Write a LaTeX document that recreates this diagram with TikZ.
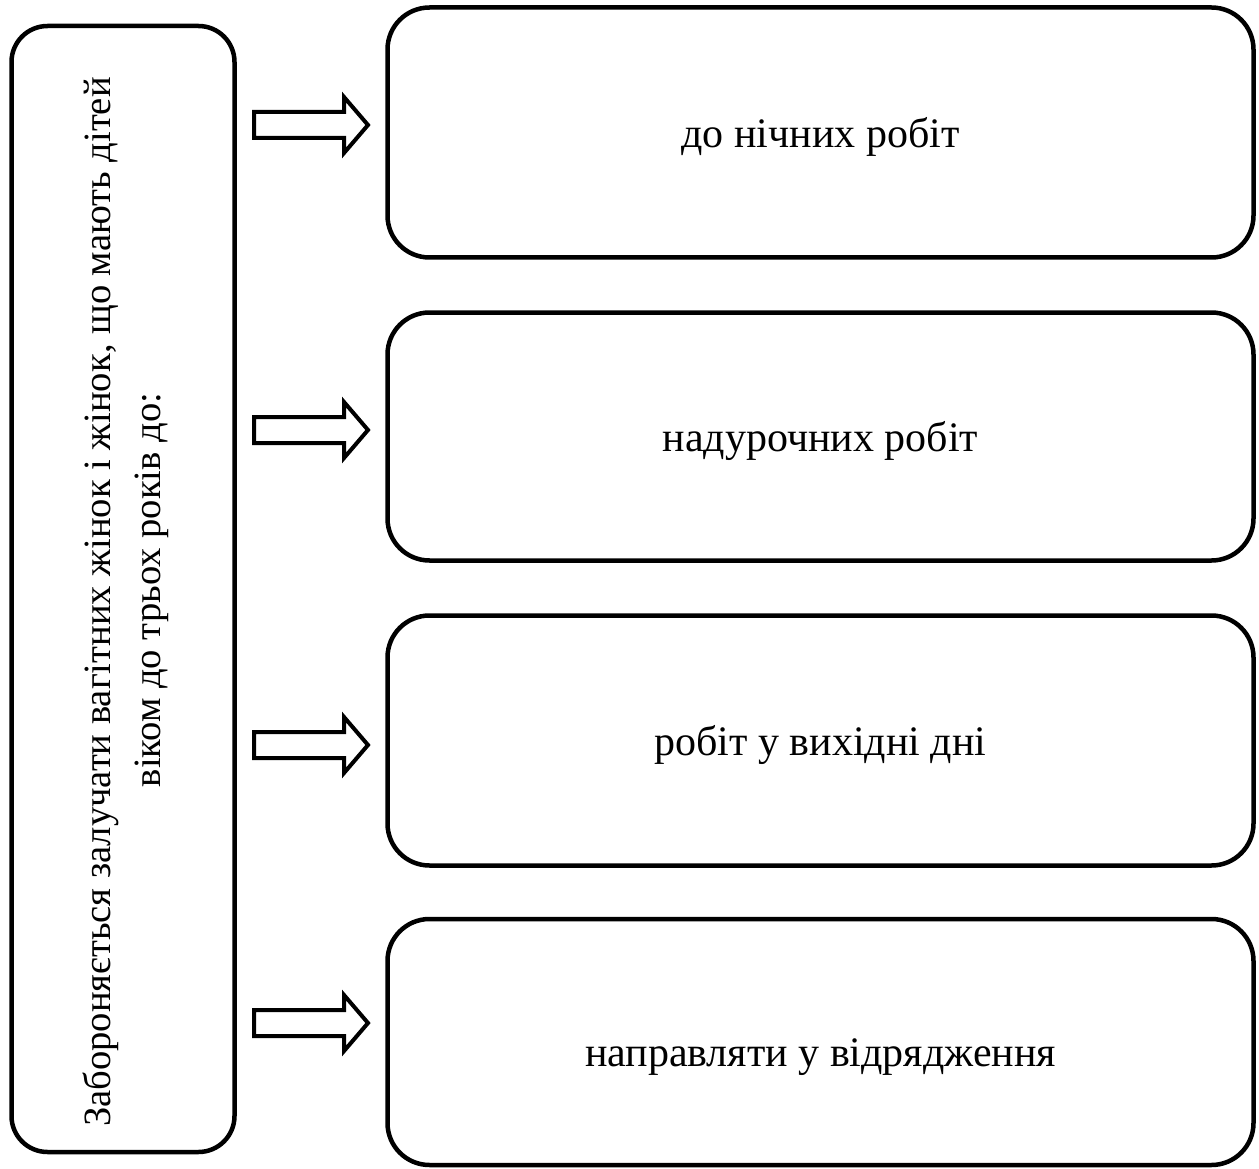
\documentclass[tikz,border=0pt]{standalone}
\usepackage{fontspec}
\setmainfont{Liberation Serif}
\begin{document}
\begin{tikzpicture}[x=1pt,y=1pt,
  box/.style={draw=black, line width=4.5pt, rounded corners=42pt, inner sep=0pt,
    font=\fontsize{42}{50}\selectfont, align=center, text height=35pt, text depth=5pt},
  leftbox/.style={draw=black, line width=4.5pt, rounded corners=36pt, inner sep=0pt},
  lefttext/.style={font=\fontsize{38.6}{50}\selectfont, rotate=90, anchor=base, inner sep=0pt},
  blockarrow/.style={draw=black, line width=4pt, fill=white, line join=miter}
]
\useasboundingbox (0,0) rectangle (1259,-1169);

\node[leftbox, minimum width=223pt, minimum height=1126pt] (L) at (123,-589) {};
\node[lefttext] (L1) at (110,-602) {Забороняється залучати вагітних жінок і жінок, що мають дітей};
\node[lefttext] (L2) at (160,-590) {віком до трьох років до:};

\node[box, minimum width=866pt, minimum height=250pt] (B1) at (820.5,-132.5) {до нічних робіт};
\node[box, minimum width=866pt, minimum height=248pt] (B2) at (820.5,-436.5) {надурочних робіт};
\node[box, minimum width=866pt, minimum height=250pt] (B3) at (820.5,-740.5) {робіт у вихідні дні};
\node[box, minimum width=866pt, minimum height=246pt, text height=48pt, text depth=0pt] (B4) at (820.5,-1042) {направляти у відрядження};

\foreach \n/\cy in {A1/125, A2/430, A3/745, A4/1023} {
  \coordinate (\n) at (254,-\cy);
  \draw[blockarrow] ([yshift=13pt]\n) -- ++(90,0) -- ++(0,15) -- ++(24,-28) -- ++(-24,-28) -- ++(0,15) -- ++(-90,0) -- cycle;
}
\end{tikzpicture}
\end{document}
